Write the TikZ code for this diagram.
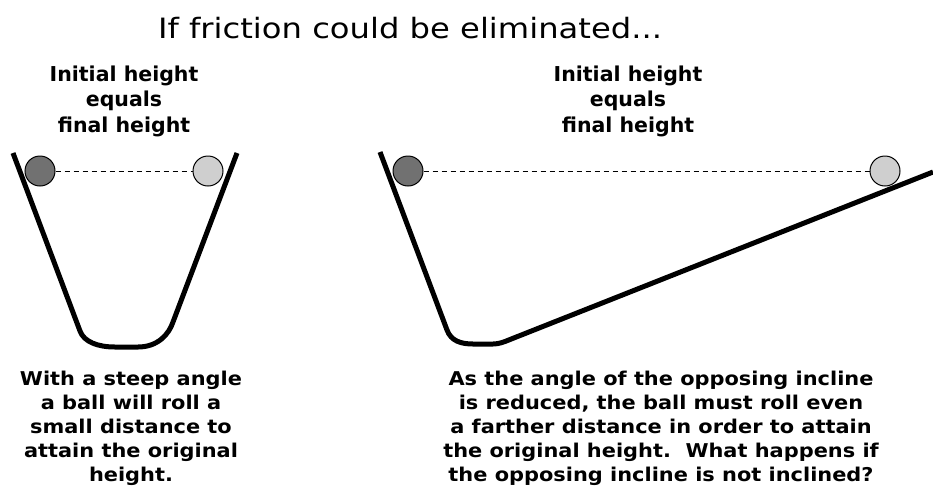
\documentclass[tikz,border=0pt]{standalone}
\usepackage{fontspec}
\setmainfont{DejaVu Sans}
\newfontfamily\titlefont{DejaVu Sans}[FakeStretch=1.15]
\newfontfamily\lblfont{DejaVu Sans}[FakeStretch=1.0]
\newfontfamily\capfont{DejaVu Sans}[FakeStretch=1.1]
\definecolor{balldark}{HTML}{717171}
\definecolor{balllight}{HTML}{CFCFCF}
\begin{document}
\begin{tikzpicture}[x=1pt,y=-1pt,
  track/.style={line width=5pt,line join=round,line cap=butt},
  ball/.style={circle,draw=black,line width=1pt,minimum size=30pt,inner sep=0pt},
  darkball/.style={ball,fill=balldark},
  lightball/.style={ball,fill=balllight},
  level/.style={dash pattern=on 5pt off 4pt,line width=1pt},
  ttl/.style={anchor=base,inner sep=0pt,font=\titlefont\fontsize{28}{28}\selectfont},
  lbl/.style={anchor=base,inner sep=0pt,font=\lblfont\bfseries\fontsize{20.5}{20.5}\selectfont},
  captext/.style={anchor=base,inner sep=0pt,font=\capfont\bfseries\fontsize{19}{19}\selectfont}]
\useasboundingbox (0,0) rectangle (933,501);
% title
\node[ttl] (title) at (410,38) {If friction could be eliminated...};
% labels
\node[lbl] (l1) at (124,81) {Initial height};
\node[lbl] (l2) at (124,106) {equals};
\node[lbl] (l3) at (124,132) {final height};
\node[lbl] (r1) at (628,81) {Initial height};
\node[lbl] (r2) at (628,106) {equals};
\node[lbl] (r3) at (628,132) {final height};
% left track
\draw[track] (13,153) -- (80,331) .. controls (84,342) and (98,347) .. (115,347)
  -- (138,347) .. controls (158,347) and (169,334) .. (173,322) -- (237,153);
% right track
\draw[track] (380,152) -- (447,330) .. controls (451,341) and (461,344) .. (473,344)
  -- (493,344) .. controls (499,344) and (504,342) .. (510,339.5) -- (933,172);
% balls
\node[darkball] (b1) at (40,171) {};
\node[lightball] (b2) at (208,171) {};
\node[darkball] (b3) at (408,171) {};
\node[lightball] (b4) at (885,171) {};
\draw[level] (b1) -- (b2);
\draw[level] (b3) -- (b4);
% captions
\node[captext] (c1) at (131,385) {With a steep angle};
\node[captext] (c2) at (131,409) {a ball will roll a};
\node[captext] (c3) at (131,433) {small distance to};
\node[captext] (c4) at (131,457) {attain the original};
\node[captext] (c5) at (131,481) {height.};
\node[captext] (d1) at (661,385) {As the angle of the opposing incline};
\node[captext] (d2) at (661,409) {is reduced, the ball must roll even};
\node[captext] (d3) at (661,433) {a farther distance in order to attain};
\node[captext] (d4) at (661,457) {the original height.\ \ What happens if};
\node[captext] (d5) at (661,481) {the opposing incline is not inclined?};
\end{tikzpicture}
\end{document}
